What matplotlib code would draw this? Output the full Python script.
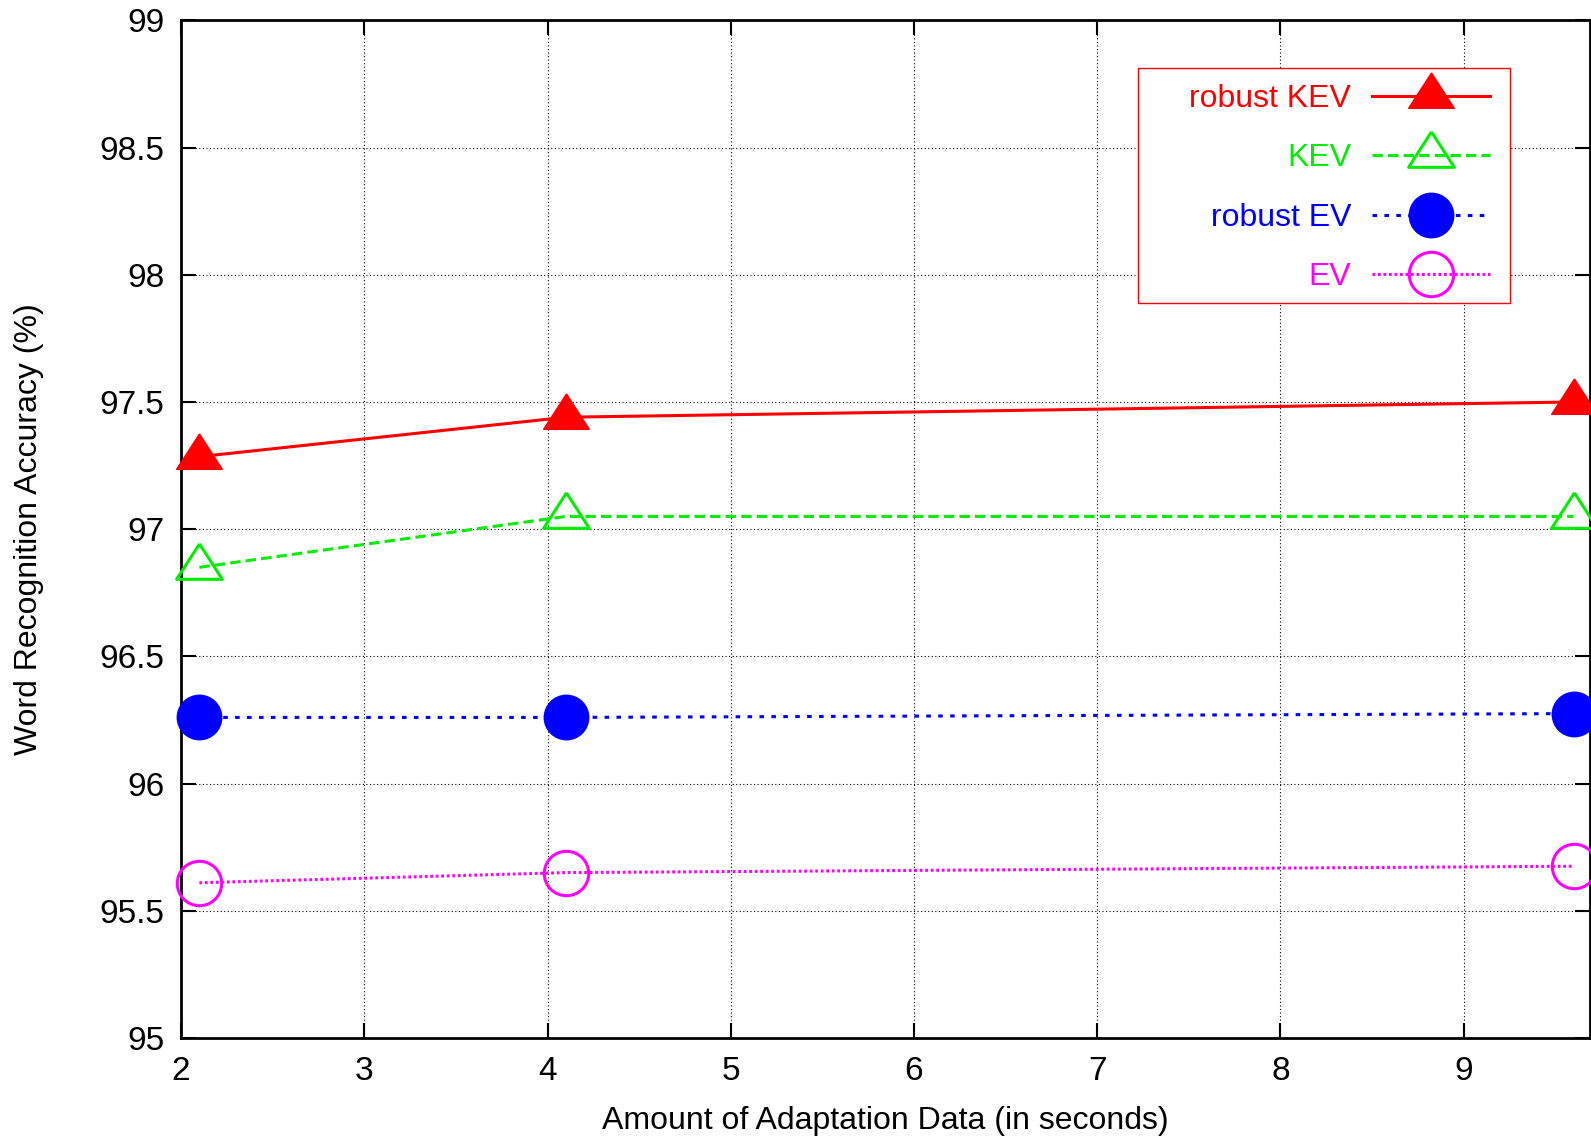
import numpy as np
import matplotlib
matplotlib.use("Agg")
import matplotlib.pyplot as plt
from matplotlib.patches import Rectangle

plt.rcParams['font.family'] = ['Liberation Sans', 'DejaVu Sans']

# data
x_data = [2.1, 4.1, 9.6]
robust_kev = [97.285, 97.44, 97.50]
kev = [96.85, 97.05, 97.05]
robust_ev = [96.26, 96.26, 96.275]
ev = [95.61, 95.65, 95.675]
labels = ["robust KEV", "KEV", "robust EV", "EV"]
x_ticks = [2, 3, 4, 5, 6, 7, 8, 9]
y_ticks = [95, 95.5, 96, 96.5, 97, 97.5, 98, 98.5, 99]

fs = 23
tfs = 24
# gnuplot-like triangle (wider than tall, centred on centroid)
tri = [(0, 1.033), (-1, -0.517), (1, -0.517), (0, 1.033)]

fig = plt.figure(figsize=(15.91, 11.37), dpi=100)
ax = fig.add_axes([0.1138, 0.0871, 0.8856, 0.895])

# grid
ax.grid(True, color='black', linestyle=(0, (1, 2.2)), linewidth=0.8)
ax.set_axisbelow(True)

lines = []
l, = ax.plot(x_data, robust_kev, color='#ff0000', lw=2.2, ls='-',
             marker=tri, ms=34, mfc='#ff0000', mec='#ff0000', clip_on=False, zorder=5)
lines.append(l)
l, = ax.plot(x_data, kev, color='#00ee00', lw=2.2, ls=(0, (3.4, 1.7)),
             marker=tri, ms=34, mfc='none', mec='#00ee00', mew=2.2, clip_on=False, zorder=5)
lines.append(l)
l, = ax.plot(x_data, robust_ev, color='#0000ff', lw=2.2, ls=(0, (1.5, 2.4)),
             marker='o', ms=32, mfc='#0000ff', mec='#0000ff', clip_on=False, zorder=5)
lines.append(l)
l, = ax.plot(x_data, ev, color='#ff00ff', lw=2.2, ls=(0, (0.9, 0.9)),
             marker='o', ms=32, mfc='none', mec='#ff00ff', mew=2.2, clip_on=False, zorder=5)
lines.append(l)

ax.set_xlim(2, 9.69)
ax.set_ylim(95, 99)
ax.set_xticks(x_ticks)
ax.set_yticks(y_ticks)
ax.set_yticklabels(["%g" % v for v in y_ticks])
ax.tick_params(direction='in', length=11, width=1.5, labelsize=tfs,
               top=True, right=True, pad=12)
ax.tick_params(axis='x', pad=13)
for s in ax.spines.values():
    s.set_linewidth(2)

ax.set_xlabel("Amount of Adaptation Data (in seconds)", fontsize=fs)
ax.set_ylabel("Word Recognition Accuracy (%)", fontsize=fs)
ax.xaxis.set_label_coords(0.5, -0.067)
ax.yaxis.set_label_coords(-0.097, 0.5)

# legend: text right aligned left of the sample, red frame drawn separately
leg = ax.legend(lines, labels, loc='upper right', bbox_to_anchor=(0.938, 0.950),
                borderaxespad=0, frameon=False, markerfirst=False, numpoints=1,
                handlelength=3.7, handletextpad=0.64, labelspacing=0.92,
                fontsize=fs, labelcolor='linecolor')
leg.set_zorder(6)
ax.add_patch(Rectangle((0.6789, 0.7221), 0.264, 0.2313, transform=ax.transAxes,
                       fill=True, facecolor='white', edgecolor='#ff0000', lw=1, zorder=5.5))

fig.savefig("out.png", dpi=100)
